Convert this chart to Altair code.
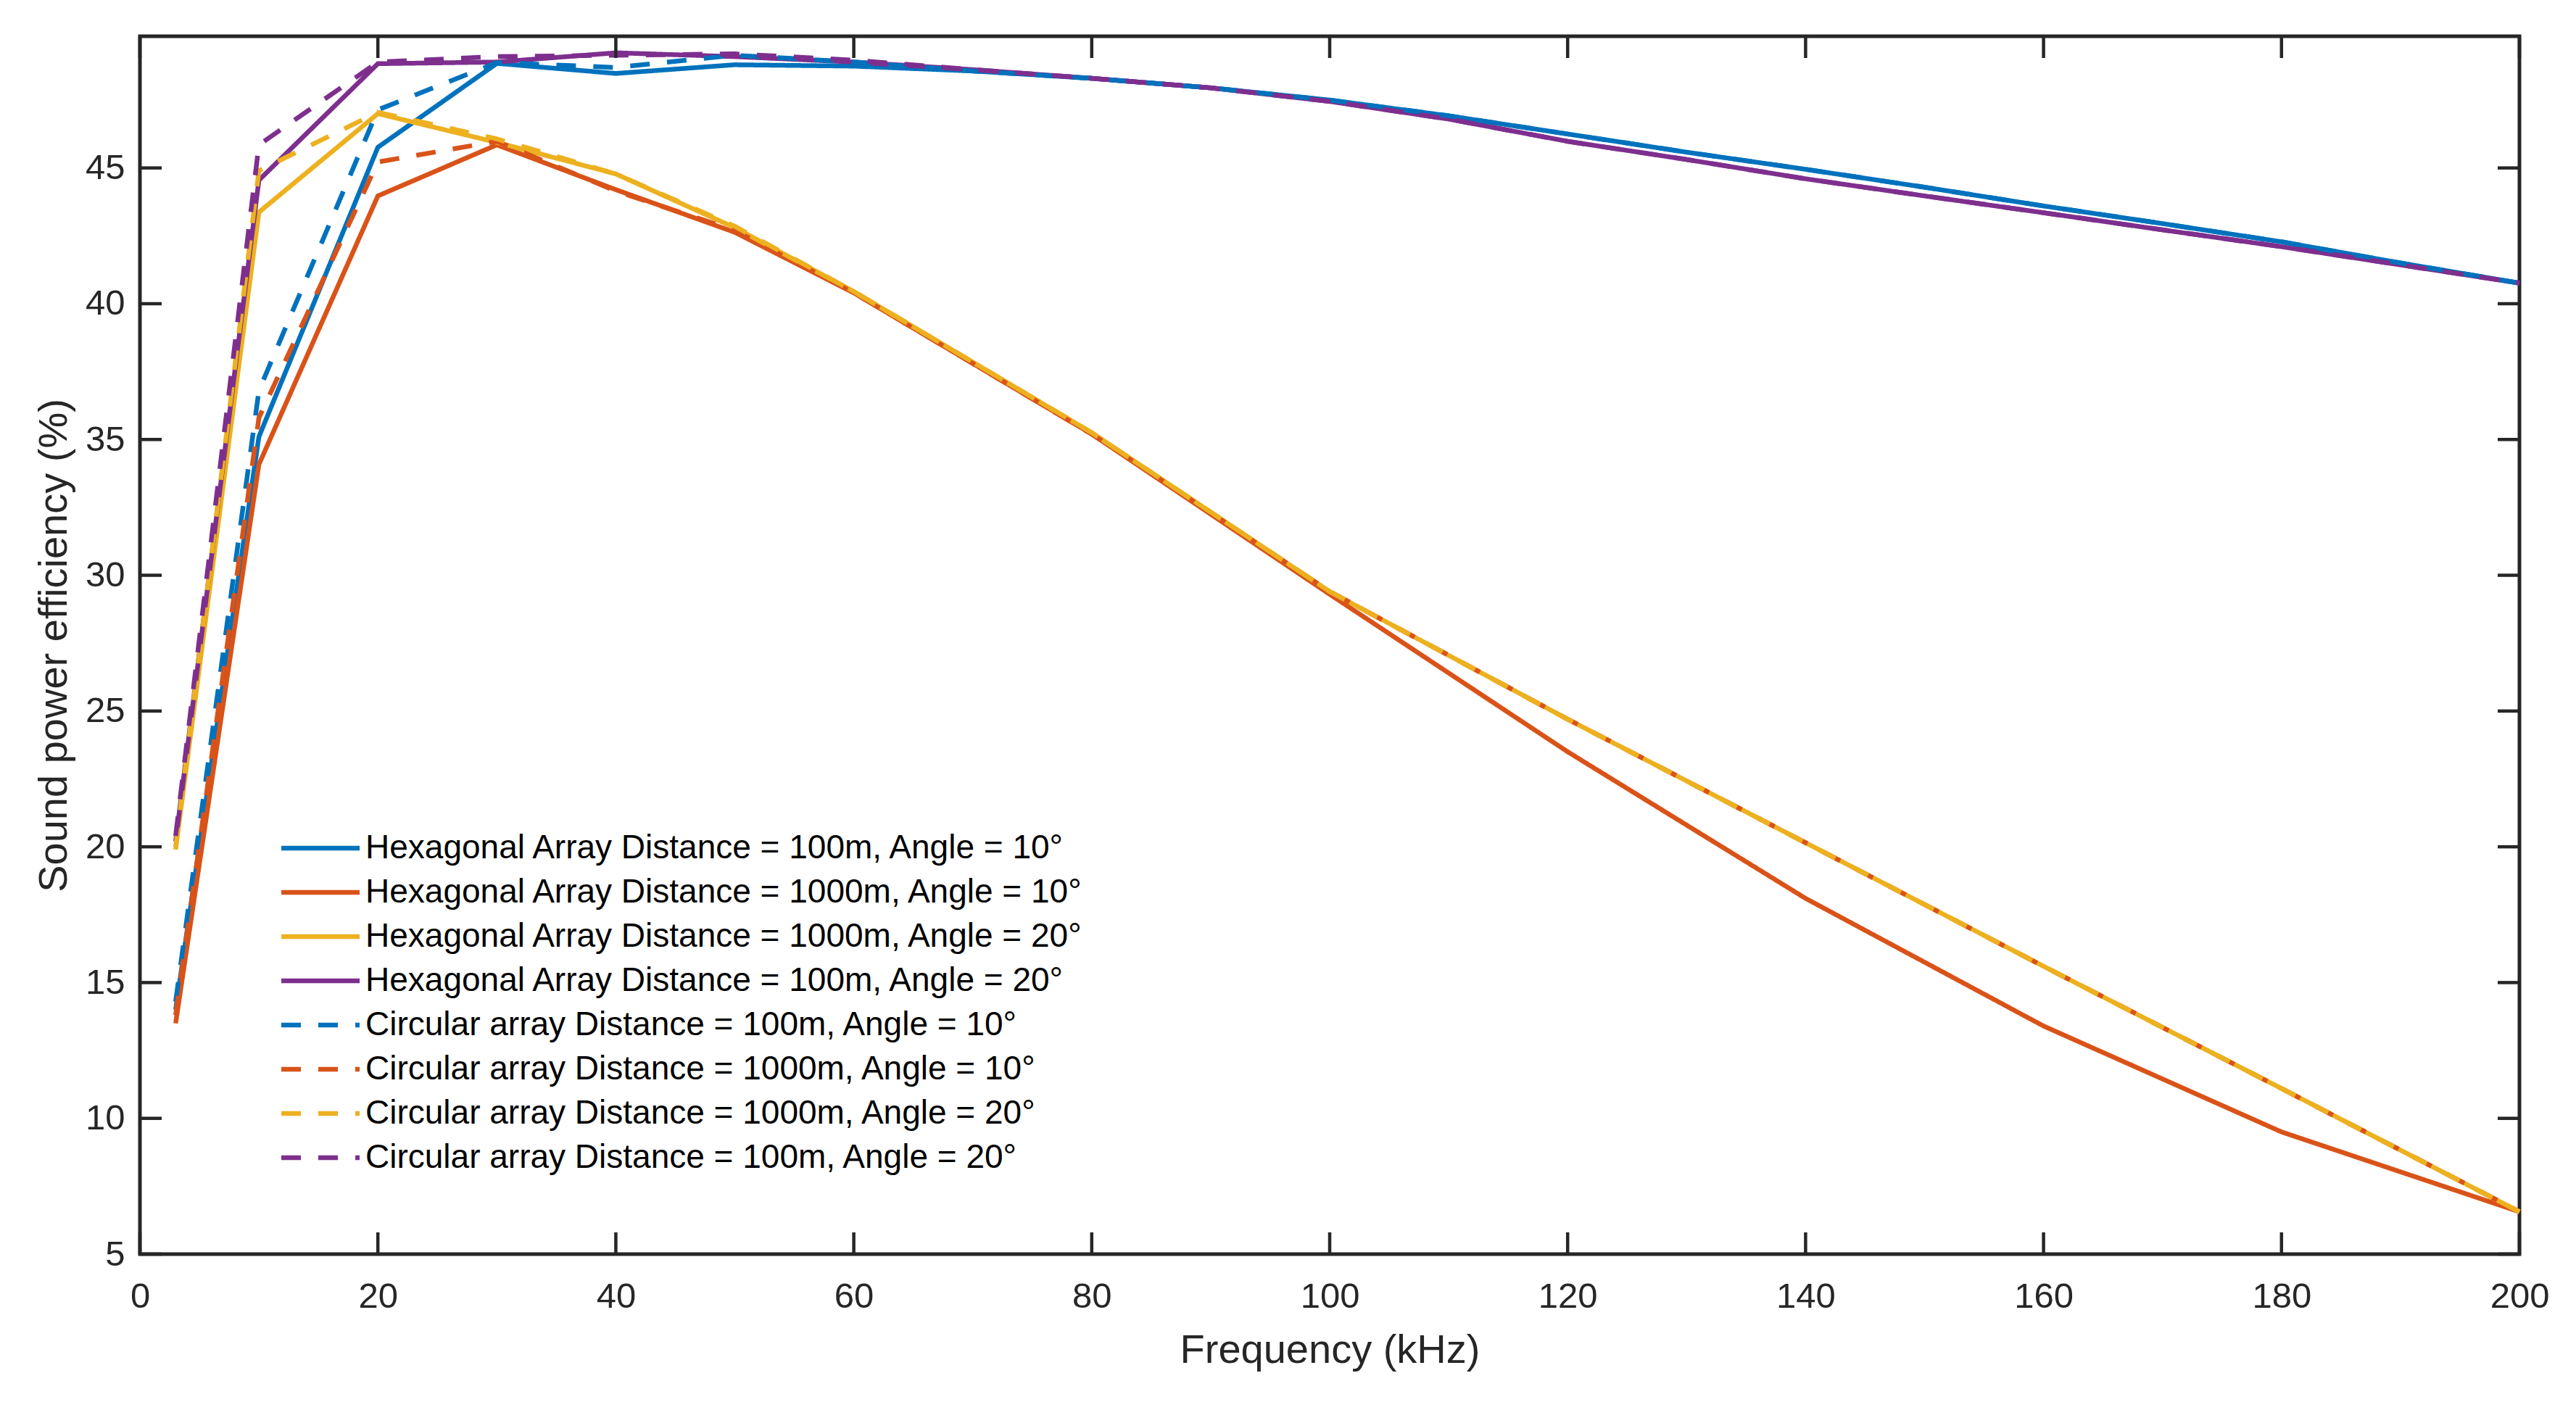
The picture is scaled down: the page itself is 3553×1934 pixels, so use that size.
import altair as alt
import pandas as pd

# ---------------- data ----------------
series_names = [
    "Hexagonal Array Distance = 100m, Angle = 10°",
    "Hexagonal Array Distance = 1000m, Angle = 10°",
    "Hexagonal Array Distance = 1000m, Angle = 20°",
    "Hexagonal Array Distance = 100m, Angle = 20°",
    "Circular array Distance = 100m, Angle = 10°",
    "Circular array Distance = 1000m, Angle = 10°",
    "Circular array Distance = 1000m, Angle = 20°",
    "Circular array Distance = 100m, Angle = 20°",
]

freq_fine = [3, 10, 20, 30, 40, 50, 60, 70, 80, 90, 100, 110, 120, 130, 140,
             150, 160, 170, 180, 190, 200]
freq_coarse = [3, 10, 20, 30, 40, 50, 60, 80, 100, 120, 140, 160, 180, 200]

hex_100_10 = [14.0, 35.1, 45.76, 48.85, 48.48, 48.8, 48.75, 48.57, 48.3, 47.95,
              47.5, 46.92, 46.25, 45.58, 44.95, 44.29, 43.6, 42.95, 42.28, 41.5, 40.76]
hex_1000_10 = [13.5, 34.08, 43.97, 45.85, 44.2, 42.63, 40.4, 35.2, 29.3,
               23.5, 18.1, 13.4, 9.5, 6.56]
hex_1000_20 = [19.9, 43.37, 47.0, 45.94, 44.78, 42.8, 40.45, 35.25, 29.4,
               24.7, 20.15, 15.6, 11.1, 6.56]
hex_100_20 = [20.2, 44.55, 48.84, 48.9, 49.24, 49.1, 48.9, 48.62, 48.3, 47.95,
              47.45, 46.8, 45.98, 45.31, 44.6, 43.97, 43.35, 42.72, 42.1, 41.43, 40.76]

circ_100_10 = [14.3, 36.8, 47.14, 48.88, 48.7, 49.15, 48.9, 48.57, 48.3, 47.95,
               47.5, 46.92, 46.25, 45.58, 44.95, 44.29, 43.6, 42.95, 42.28, 41.5, 40.76]
circ_1000_10 = [13.8, 35.8, 45.22, 45.98, 44.15, 42.7, 40.4, 35.2, 29.4,
                24.7, 20.15, 15.6, 11.1, 6.56]
circ_1000_20 = [20.0, 44.9, 47.05, 46.07, 44.78, 42.85, 40.45, 35.25, 29.4,
                24.7, 20.15, 15.6, 11.1, 6.56]
circ_100_20 = [20.4, 45.85, 48.9, 49.1, 49.15, 49.2, 48.97, 48.62, 48.3, 47.95,
               47.45, 46.8, 45.98, 45.31, 44.6, 43.97, 43.35, 42.72, 42.1, 41.43, 40.76]

series_values = [
    (freq_fine, hex_100_10),
    (freq_coarse, hex_1000_10),
    (freq_coarse, hex_1000_20),
    (freq_fine, hex_100_20),
    (freq_fine, circ_100_10),
    (freq_coarse, circ_1000_10),
    (freq_coarse, circ_1000_20),
    (freq_fine, circ_100_20),
]

x_ticks = [0, 20, 40, 60, 80, 100, 120, 140, 160, 180, 200]
y_ticks = [5, 10, 15, 20, 25, 30, 35, 40, 45]

colors = ["#0072BD", "#D95319", "#EDB120", "#7E2F8E",
          "#0072BD", "#D95319", "#EDB120", "#7E2F8E"]
dashes = [[1, 0]] * 4 + [[27, 24]] * 4

# ---------------- build table ----------------
rows = []
for name, (fx, fy) in zip(series_names, series_values):
    for f, v in zip(fx, fy):
        rows.append({"freq": f, "value": v, "series": name})
df = pd.DataFrame(rows)

W, H = 3282, 1680
AX = "#262626"
FONT = "Liberation Sans"
TICK = 30
XT = "Frequency (kHz)"
YT = "Sound power efficiency (%)"

xscale = alt.Scale(domain=[0, 200], nice=False, zero=False)
yscale = alt.Scale(domain=[5, 49.85], nice=False, zero=False)
xaxis = alt.Axis(values=x_ticks, format="d", labelFlush=False)
yaxis = alt.Axis(values=y_ticks, format="d", labelFlush=False)

legend = alt.Legend(
    title=None, orient="none", legendX=223, legendY=1094,
    symbolType="M-2.4,0H2.4", symbolSize=2025, symbolStrokeWidth=6.5,
    labelFont=FONT, labelFontSize=46, labelColor="#000000",
    labelOffset=36, rowPadding=12, labelLimit=0, padding=0,
)

lines = alt.Chart(df).mark_line(strokeWidth=6.5, strokeCap="butt", strokeJoin="miter").encode(
    x=alt.X("freq:Q", scale=xscale, title=XT, axis=xaxis),
    y=alt.Y("value:Q", scale=yscale, title=YT, axis=yaxis),
    color=alt.Color("series:N", scale=alt.Scale(domain=series_names, range=colors),
                    legend=legend),
    strokeDash=alt.StrokeDash("series:N", scale=alt.Scale(domain=series_names, range=dashes),
                              legend=legend),
)

xt = pd.DataFrame({"t": x_ticks})
yt = pd.DataFrame({"t": y_ticks})

tick_bottom = alt.Chart(xt).mark_rule(color=AX, strokeWidth=4.5).encode(
    x=alt.X("t:Q", scale=xscale, title=XT, axis=xaxis), y=alt.value(H), y2=alt.value(H - TICK))
tick_top = alt.Chart(xt).mark_rule(color=AX, strokeWidth=4.5).encode(
    x=alt.X("t:Q", scale=xscale, title=XT, axis=xaxis), y=alt.value(0), y2=alt.value(TICK))
tick_left = alt.Chart(yt).mark_rule(color=AX, strokeWidth=4.5).encode(
    y=alt.Y("t:Q", scale=yscale, title=YT, axis=yaxis), x=alt.value(0), x2=alt.value(TICK))
tick_right = alt.Chart(yt).mark_rule(color=AX, strokeWidth=4.5).encode(
    y=alt.Y("t:Q", scale=yscale, title=YT, axis=yaxis), x=alt.value(W), x2=alt.value(W - TICK))

chart = alt.layer(lines, tick_bottom, tick_top, tick_left, tick_right).properties(
    width=W, height=H,
    autosize="none",
    padding={"left": 185, "top": 42, "right": 70, "bottom": 196},
    background="white",
).configure_view(
    stroke=AX, strokeWidth=5,
).configure_axis(
    domain=False, ticks=False, grid=False,
    labelFont=FONT, labelFontSize=49, labelColor=AX,
    titleFont=FONT, titleFontSize=56, titleFontWeight="normal", titleColor=AX,
).configure_axisX(
    labelPadding=34, titlePadding=22,
).configure_axisY(
    labelPadding=21, titlePadding=14,
)

chart.save("out.html", embed_options={"renderer": "svg", "actions": False})
